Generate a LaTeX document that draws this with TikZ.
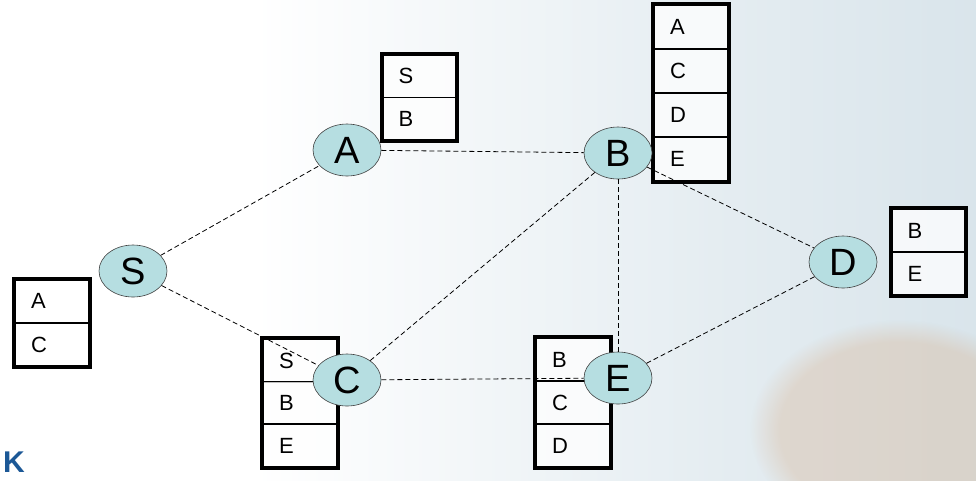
\documentclass[tikz,border=0pt]{standalone}
\usepackage{fontspec}
\setmainfont{Liberation Sans}
\usetikzlibrary{shapes.geometric,fit,fadings}
\definecolor{nodefill}{RGB}{182,222,225}
\definecolor{bgright}{RGB}{196,214,224}
\definecolor{warm}{RGB}{215,170,130}
\definecolor{logoblue}{RGB}{28,88,150}
\pgfdeclarehorizontalshading{bgshade}{100bp}{color(0bp)=(white); color(38bp)=(white); color(62bp)=(bgright!45!white); color(100bp)=(bgright)}
\tikzset{
  vert/.style={ellipse, draw=black!75, line width=0.6pt, fill=nodefill,
    minimum width=68pt, minimum height=52pt, inner sep=0pt,
    font=\fontsize{38}{38}\selectfont},
  cell/.style={rectangle, draw=black, line width=1.3pt, fill=white, fill opacity=0.75, text opacity=1,
    minimum width=74pt, minimum height=43pt, text width=42pt, inner xsep=16pt, inner ysep=0pt,
    align=left, font=\fontsize{22}{22}\selectfont},
  frame/.style={rectangle, draw=black, line width=3.8pt, inner sep=0pt},
  edge/.style={draw=black, line width=0.8pt, dash pattern=on 5pt off 3pt}
}
\begin{document}
\begin{tikzpicture}[x=1pt,y=-1pt]
\useasboundingbox (0,0) rectangle (976,480);
\clip (0,0) rectangle (976,480);
\shade[shading=bgshade] (0,0) rectangle (976,480);
\fill[warm, opacity=0.3, path fading=circle with fuzzy edge 20 percent] (900,430) ellipse (150 and 110);
\node[anchor=base west, inner sep=0pt, text=logoblue, font=\fontsize{30}{30}\selectfont\bfseries] (logo) at (3,472) {K};

% tables
\node[cell] (sa1) at (52,301) {A};
\node[cell] (sa2) at (52,344.5) {C};
\node[frame, fit=(sa1)(sa2)] (sT) {};

\node[cell] (aa1) at (419.5,76) {S};
\node[cell] (aa2) at (419.5,119) {B};
\node[frame, fit=(aa1)(aa2)] (aT) {};

\node[cell, minimum height=44pt] (ba1) at (691,27) {A};
\node[cell, minimum height=44pt] (ba2) at (691,71) {C};
\node[cell, minimum height=44pt] (ba3) at (691,115) {D};
\node[cell, minimum height=44pt] (ba4) at (691,159) {E};
\node[frame, fit=(ba1)(ba4)] (bT) {};

\node[cell] (da1) at (928.5,230.5) {B};
\node[cell] (da2) at (928.5,273.5) {E};
\node[frame, fit=(da1)(da2)] (dT) {};

\node[cell] (ca1) at (300,360.5) {S};
\node[cell] (ca2) at (300,403) {B};
\node[cell] (ca3) at (300,445.5) {E};
\node[frame, fit=(ca1)(ca3)] (cT) {};

\node[cell] (ea1) at (573,359.5) {B};
\node[cell] (ea2) at (573,402.5) {C};
\node[cell] (ea3) at (573,445.5) {D};
\node[frame, fit=(ea1)(ea3)] (eT) {};

% vertices
\path (133,271) coordinate (Sc) (347,150) coordinate (Ac) (618,153) coordinate (Bc)
      (347,380) coordinate (Cc) (618,378) coordinate (Ec) (843,262) coordinate (Dc);
\node[vert] (S) at (Sc) {S};
\node[vert] (A) at (Ac) {A};
\node[vert] (B) at (Bc) {B};
\node[vert] (C) at (Cc) {C};
\node[vert] (E) at (Ec) {E};
\node[vert] (D) at (Dc) {D};

% edges
\draw[edge] (S) -- (A);
\draw[edge] (S) -- (C);
\draw[edge] (A) -- (B);
\draw[edge] (B) -- (C);
\draw[edge] (B) -- (E);
\draw[edge] (B) -- (D);
\draw[edge] (C) -- (E);
\draw[edge] (E) -- (D);
\end{tikzpicture}
\end{document}
